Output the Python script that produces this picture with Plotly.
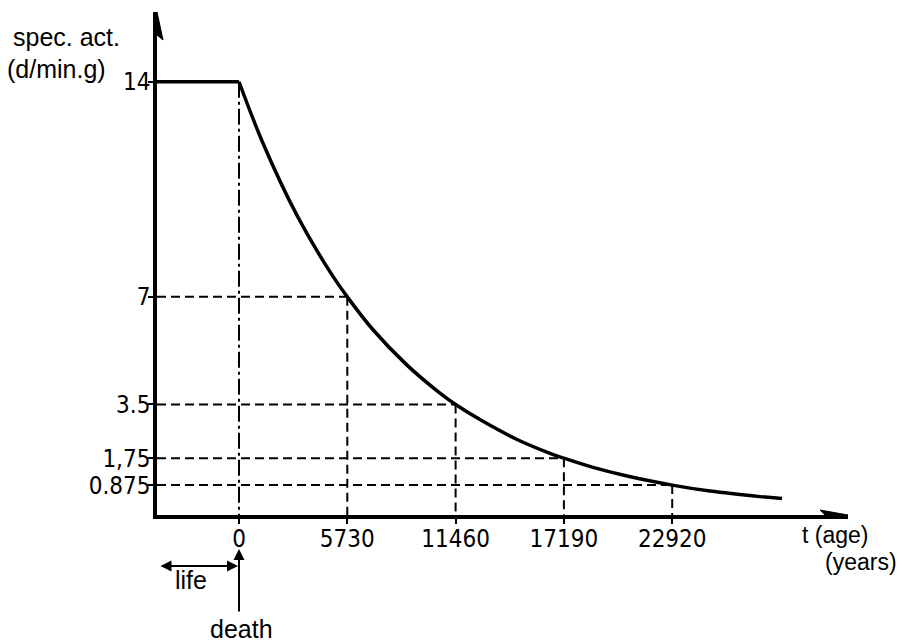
import plotly.graph_objects as go

# ---------------- data ----------------
age_years = [0, 1270, 3070, 4810, 5730, 7090, 8890, 10630, 11460, 12910,
             14710, 16450, 17190, 18730, 20530, 22920, 24920, 27570, 28730]
spec_act = [14, 12.0, 9.65, 7.82, 7, 5.93, 4.78, 3.87, 3.5, 2.95,
            2.36, 1.91, 1.75, 1.45, 1.17, 0.875, 0.68, 0.50, 0.44]

life_act = 14
death_age = 0

half_life_ages = [5730, 11460, 17190, 22920]
half_life_acts = [7, 3.5, 1.75, 0.875]

x_tick_vals = [0, 5730, 11460, 17190, 22920]
x_tick_text = ["0", "5730", "11460", "17190", "22920"]
y_tick_vals = [0.875, 1.75, 3.5, 7, 14]
y_tick_text = ["0.875", "1,75", "3.5", "7", "14"]

# ---------------- layout constants ----------------
W, H = 910, 642
ML, MR, MT, MB = 157, 62, 12, 127
X_MIN, X_MAX = -4338, 32220
Y_MIN, Y_MAX = -0.098, 16.27
PW, PH = W - ML - MR, H - MT - MB

TICK_FONT = "Liberation Sans Narrow, DejaVu Sans Condensed, Arial Narrow, sans-serif"
TEXT_FONT = "Liberation Sans, Arial, DejaVu Sans, sans-serif"
BLACK = "#000000"


def px_to_paper_x(px):
    return (px - ML) / PW


def py_to_paper_y(py):
    return (H - MB - py) / PH


fig = go.Figure()

# plateau during life
fig.add_trace(go.Scatter(
    x=[X_MIN, death_age], y=[life_act, life_act], mode="lines",
    line=dict(color=BLACK, width=3.5), hoverinfo="skip", showlegend=False,
    cliponaxis=False))

# dash-dot line at death
fig.add_trace(go.Scatter(
    x=[death_age, death_age], y=[life_act, Y_MIN], mode="lines",
    line=dict(color=BLACK, width=2, dash="16px,4px,3px,4px"),
    hoverinfo="skip", showlegend=False))

# dashed half-life guides
for t, v in zip(half_life_ages, half_life_acts):
    fig.add_trace(go.Scatter(
        x=[X_MIN, t], y=[v, v], mode="lines",
        line=dict(color=BLACK, width=2, dash="9px,5px"),
        hoverinfo="skip", showlegend=False))
    fig.add_trace(go.Scatter(
        x=[t, t], y=[v, Y_MIN], mode="lines",
        line=dict(color=BLACK, width=2, dash="9px,5px"),
        hoverinfo="skip", showlegend=False))

# decay curve
fig.add_trace(go.Scatter(
    x=age_years, y=spec_act, mode="lines",
    line=dict(color=BLACK, width=3.5, shape="spline", smoothing=1.0),
    hoverinfo="skip", showlegend=False))

# axis arrowheads (pixel-sized paths anchored at the axis ends)
fig.add_shape(type="path", xref="x", yref="y", xsizemode="pixel", ysizemode="pixel",
              xanchor=X_MIN, yanchor=Y_MAX,
              path="M0,0 L-6,-28 L0,-23 L6,-28 Z",
              fillcolor=BLACK, line=dict(color=BLACK, width=1))
fig.add_shape(type="path", xref="x", yref="y", xsizemode="pixel", ysizemode="pixel",
              xanchor=X_MAX, yanchor=Y_MIN,
              path="M0,0 L-28,5 L-23,0 L-28,-5 Z",
              fillcolor=BLACK, line=dict(color=BLACK, width=1))

annos = []


def add_text(txt, px, py, anchor="left", size=25):
    annos.append(dict(text=txt, xref="paper", yref="paper",
                      x=px_to_paper_x(px), y=py_to_paper_y(py),
                      xanchor=anchor, yanchor="middle", showarrow=False,
                      borderpad=0,
                      font=dict(family=TEXT_FONT, size=size, color=BLACK)))


add_text("spec. act.", 12, 37)
add_text("(d/min.g)", 6, 69)
add_text("t (age)", 801, 535, size=23)
add_text("(years)", 824, 562, size=23)
add_text("life", 191, 580, "center")
add_text("death", 241, 629, "center")

# life double arrow
annos.append(dict(text="", xref="x", yref="paper", x=death_age, y=py_to_paper_y(566),
                  axref="pixel", ayref="pixel", ax=-80, ay=0,
                  showarrow=True, arrowhead=2, startarrowhead=2, arrowside="end+start",
                  arrowsize=1.1, startarrowsize=1.1, arrowwidth=2, arrowcolor=BLACK,
                  standoff=1, startstandoff=0))
# death arrow
annos.append(dict(text="", xref="x", yref="paper", x=death_age, y=py_to_paper_y(549),
                  axref="pixel", ayref="pixel", ax=0, ay=64,
                  showarrow=True, arrowhead=2, arrowsize=1.1, arrowwidth=2,
                  arrowcolor=BLACK, standoff=0))

fig.update_layout(
    width=W, height=H,
    margin=dict(l=ML, r=MR, t=MT, b=MB, pad=0),
    paper_bgcolor="white", plot_bgcolor="white",
    showlegend=False, hovermode=False,
    annotations=annos,
    xaxis=dict(range=[X_MIN, X_MAX], showgrid=False, zeroline=False,
               showline=True, linecolor=BLACK, linewidth=3.5,
               tickmode="array", tickvals=x_tick_vals, ticktext=x_tick_text,
               ticks="outside", ticklen=5, tickwidth=2, tickcolor=BLACK,
               ticklabelstandoff=-6,
               tickfont=dict(family=TICK_FONT, size=24, color=BLACK)),
    yaxis=dict(range=[Y_MIN, Y_MAX], showgrid=False, zeroline=False,
               showline=True, linecolor=BLACK, linewidth=3.5,
               tickmode="array", tickvals=y_tick_vals, ticktext=y_tick_text,
               ticks="outside", ticklen=5, tickwidth=2, tickcolor=BLACK,
               ticklabelstandoff=-7,
               tickfont=dict(family=TICK_FONT, size=24, color=BLACK)),
)

fig.write_html("out.html", config=dict(displayModeBar=False),
               post_script="document.body.style.margin='0px';")
